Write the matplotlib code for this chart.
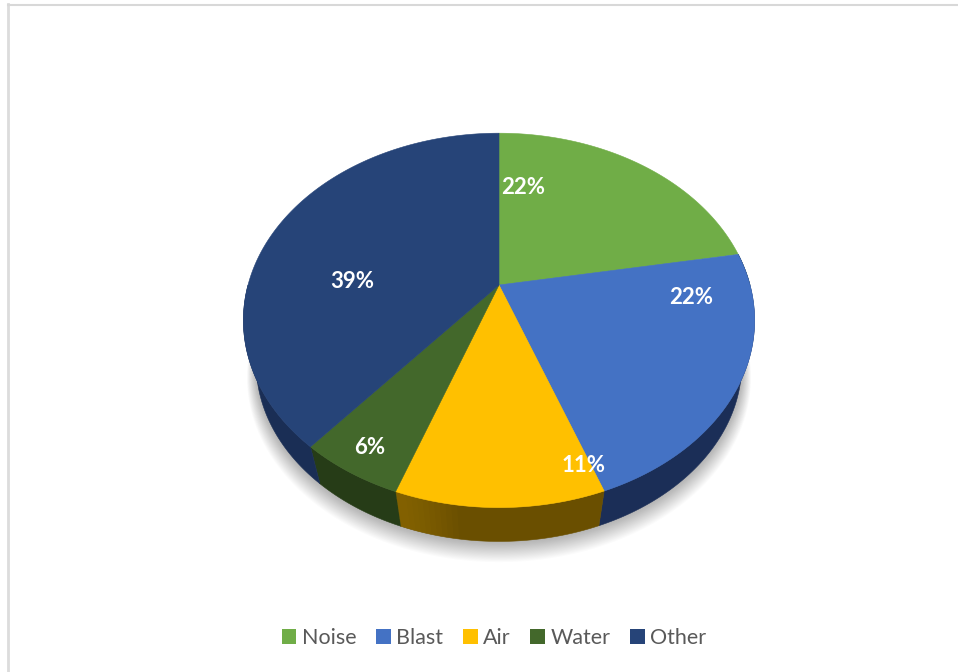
import numpy as np
import matplotlib.pyplot as plt
from matplotlib.patches import Patch, Polygon
from matplotlib.lines import Line2D

labels = ["Noise", "Blast", "Air", "Water", "Other"]
values = [22.2, 22.2, 11.1, 5.6, 38.9]
colors = ["#70ad47", "#4472c4", "#ffc000", "#43682b", "#264478"]
wall_colors = ["#3b5c25", "#1b2e57", "#6a4f00", "#263c17", "#1a2e55"]

# where the printed percentages sit, in pixels
label_xy = [(523, 188), (691, 298), (584, 465), (370, 448), (352, 282)]

# pie geometry in pixels: perspective view of a unit disc
cx, cy = 499, 285
a, b, k = 251.0, 180.5, 0.189
rim_scale, rim_drop = 0.95, 45


def rzut(th):
    # th = angle clockwise from 12 o'clock, returns offsets from the apex
    x, y = np.sin(th), np.cos(th)
    return a * x / (1 + k * y), b * y / (1 + k * y)


def gora(th):
    X, Y = rzut(th)
    return cx + X, cy - Y


def dol(th):
    X, Y = rzut(th)
    return cx + rim_scale * X, cy - (rim_scale * Y - rim_drop)


def sciana(t0, t1):
    # wall between two angles: top arc there, bottom arc back
    th = np.linspace(t0, t1, 100)
    xg, yg = gora(th)
    xl, yl = dol(th[::-1])
    return np.c_[np.r_[xg, xl], np.r_[yg, yl]]


fig = plt.figure(figsize=(9.58, 6.72), dpi=100)
ax = fig.add_axes([0, 0, 1, 1])
ax.set_xlim(0, 958)
ax.set_ylim(672, 0)
ax.axis("off")

# window frame of the screenshot
ax.add_line(Line2D([8, 8], [4, 672], color="#dcdcdc", lw=2))
ax.add_line(Line2D([8, 958], [4.5, 4.5], color="#d8d8d8", lw=1.5))

# soft shadow under the pie
th_all = np.linspace(0, 2 * np.pi, 361)
xd, yd = dol(th_all)
mx, my = xd.mean(), yd.mean()
for i in range(20):
    s = 1.0 + i * 0.002
    ax.add_patch(Polygon(np.c_[mx + (xd - mx) * s, my + (yd - my) * s + i * 0.7],
                         fc="#000000", ec="none", alpha=0.016, zorder=1))

granice = np.r_[0, np.cumsum(values)] / np.sum(values) * 2 * np.pi

# side walls, only the front of the rim shows
for i in range(len(values)):
    t0, t1 = granice[i], granice[i + 1]
    if i == 0:
        t0 = np.pi / 2
    if i == len(values) - 1:
        t1 = 3 * np.pi / 2
    ax.add_patch(Polygon(sciana(t0, t1), fc=wall_colors[i], ec=wall_colors[i], lw=0.4, zorder=2))

# the air wall gets lighter towards its left edge
for f in np.linspace(0.05, 0.3, 10):
    ax.add_patch(Polygon(sciana(granice[3] - f * (granice[3] - granice[2]), granice[3]),
                         fc="#b08400", ec="none", alpha=0.05, zorder=2.1))

# top face
for i in range(len(values)):
    th = np.linspace(granice[i], granice[i + 1], 200)
    xg, yg = gora(th)
    ax.add_patch(Polygon(np.c_[np.r_[cx, xg], np.r_[cy, yg]], fc=colors[i], ec=colors[i], lw=0.4, zorder=3))

for (x, y), v in zip(label_xy, values):
    ax.text(x, y, f"{v:.0f}%", color="white", ha="center", va="center", fontsize=16,
            fontweight="bold", family="Lato", zorder=4)

uchwyty = [Patch(fc=c, ec="none", label=l) for c, l in zip(colors, labels)]
ax.legend(handles=uchwyty, loc="center", bbox_to_anchor=(494, 638), bbox_transform=ax.transData,
          ncol=5, frameon=False, prop={"family": "Lato", "size": 15.5}, labelcolor="#595959",
          handlelength=0.68, handleheight=0.68, handletextpad=0.25, columnspacing=0.92)

fig.savefig("out.png", dpi=100)
plt.close()
